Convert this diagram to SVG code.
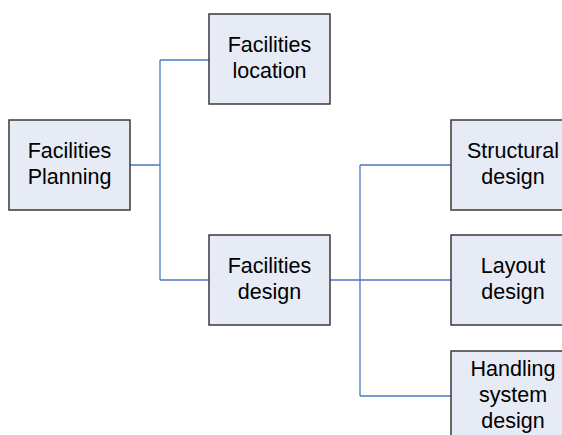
<svg xmlns="http://www.w3.org/2000/svg" width="562" height="435" viewBox="0 0 562 435">
  <style>
    .box { fill: #E6EBF5; stroke: #3a3a3a; stroke-width: 1.5; }
    .lbl { font-family: "Liberation Sans", Arial, sans-serif; font-size: 21.5px; fill: #000; text-anchor: middle; }
    .wire { fill: none; stroke: #4A78C4; stroke-width: 1.3; }
  </style>
  <rect width="562" height="435" fill="#fff"/>

  <!-- connectors -->
  <g id="connectors">
    <path class="wire" d="M130,165 H160 M160,60 V280 M160,60 H209 M160,280 H209"/>
    <path class="wire" d="M330,280 H451 M360,165 V396 M360,165 H451 M360,396 H451"/>
  </g>

  <g id="facilities-planning">
    <rect class="box" x="9" y="120" width="121" height="90"/>
    <text class="lbl" x="69.5" y="158">Facilities</text>
    <text class="lbl" x="69.5" y="184">Planning</text>
  </g>

  <g id="facilities-location">
    <rect class="box" x="209" y="14" width="121" height="90"/>
    <text class="lbl" x="269.5" y="52">Facilities</text>
    <text class="lbl" x="269.5" y="78">location</text>
  </g>

  <g id="facilities-design">
    <rect class="box" x="209" y="235" width="121" height="90"/>
    <text class="lbl" x="269.5" y="273">Facilities</text>
    <text class="lbl" x="269.5" y="299">design</text>
  </g>

  <g id="structural-design">
    <rect class="box" x="451" y="120" width="121" height="90"/>
    <text class="lbl" x="513" y="158">Structural</text>
    <text class="lbl" x="513" y="184">design</text>
  </g>

  <g id="layout-design">
    <rect class="box" x="451" y="235" width="121" height="90"/>
    <text class="lbl" x="513" y="273">Layout</text>
    <text class="lbl" x="513" y="299">design</text>
  </g>

  <g id="handling-system-design">
    <rect class="box" x="451" y="351" width="121" height="90"/>
    <text class="lbl" x="513" y="376">Handling</text>
    <text class="lbl" x="513" y="402">system</text>
    <text class="lbl" x="513" y="428">design</text>
  </g>
</svg>
